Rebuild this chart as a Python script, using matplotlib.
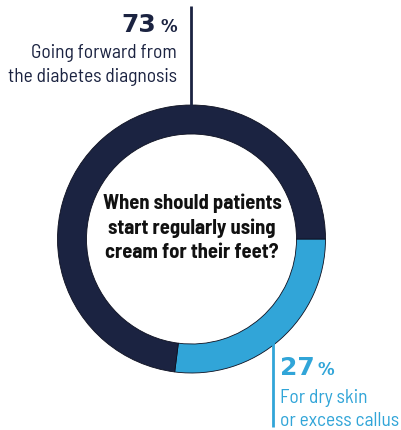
import matplotlib
matplotlib.use("Agg")
from matplotlib import pyplot as plt

# data
shares = [27, 73]
share_labels = ["27", "73"]
answers = ["For dry skin\nor excess callus", "Going forward from\nthe diabetes diagnosis"]
question = ["When should patients", "start regularly using", "cream for their feet?"]

light = "#31a5d8"
dark = "#1b2341"
narrow = ["Barlow Semi Condensed", "DejaVu Sans"]

W, H = 401, 431
fig = plt.figure(figsize=(W / 100, H / 100), dpi=100)
ax = fig.add_axes([0, 0, 1, 1])

def Y(y):
    # pixel row from top -> data y
    return H - y

cx, cy, R = 191.5, Y(240), 134
ax.pie(shares, colors=[light, dark], startangle=0, counterclock=False,
       center=(cx, cy), radius=R, frame=True,
       wedgeprops=dict(width=29, edgecolor="#0d1020", linewidth=0.6))
ax.set_xlim(0, W)
ax.set_ylim(0, H)
ax.set_aspect("auto")
ax.axis("off")

# leader lines
ax.plot([190.5, 190.5], [Y(7), Y(108)], color=dark, lw=2, solid_capstyle="butt")
ax.plot([273, 273], [Y(338), Y(428)], color=light, lw=2, solid_capstyle="butt")

# 73 % label (top left)
ax.text(156, Y(32), share_labels[1], ha="right", va="baseline", color=dark,
        fontsize=18, fontweight="bold", family="DejaVu Sans")
ax.text(177, Y(32), "%", ha="right", va="baseline", color=dark,
        fontsize=12, fontweight="bold", family="DejaVu Sans")
for i, line in enumerate(answers[1].split("\n")):
    ax.text(177, Y(58 + 24 * i), line, ha="right", va="baseline", color=dark,
            fontsize=14, family=narrow)

# 27 % label (bottom right)
ax.text(280, Y(375), share_labels[0], ha="left", va="baseline", color=light,
        fontsize=18, fontweight="bold", family="DejaVu Sans")
ax.text(318, Y(375), "%", ha="left", va="baseline", color=light,
        fontsize=12, fontweight="bold", family="DejaVu Sans")
for i, line in enumerate(answers[0].split("\n")):
    ax.text(280, Y(403 + 23 * i), line, ha="left", va="baseline", color=light,
            fontsize=14, family=narrow)

# question in the middle
for i, line in enumerate(question):
    ax.text(192, Y(203 + 25 * i), line, ha="center", va="center", color="#111111",
            fontsize=14.8, fontweight="bold", family=narrow)

fig.savefig("out.png", dpi=100)
